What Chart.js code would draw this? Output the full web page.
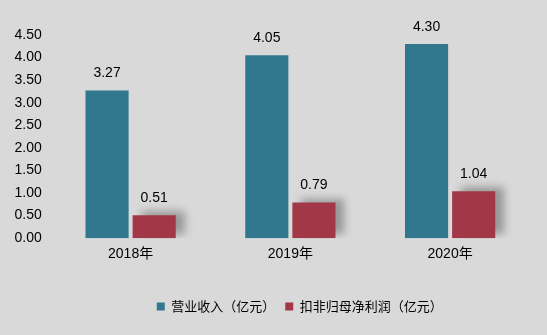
<!DOCTYPE html>
<html>
<head>
<meta charset="utf-8">
<script src="https://cdn.jsdelivr.net/npm/chart.js@4"></script>
<style>
  html, body { margin: 0; padding: 0; background: #d9d9d9; }
  #wrap { width: 547px; height: 335px; }
</style>
</head>
<body>
<div id="wrap"><canvas id="chart"></canvas></div>
<script>
const years = ["2018年", "2019年", "2020年"];
const revenue = [3.27, 4.05, 4.30];      // 营业收入
const netProfit = [0.51, 0.79, 1.04];    // 扣非归母净利润
const yTicks = [0, 0.5, 1, 1.5, 2, 2.5, 3, 3.5, 4, 4.5];

const FONT = "'Liberation Sans', 'Noto Sans CJK SC', sans-serif";
const CJK = "'Noto Sans CJK SC', 'Liberation Sans', sans-serif";

// value labels above each bar
const valueLabels = {
  id: "valueLabels",
  afterDatasetsDraw(chart) {
    const ctx = chart.ctx;
    ctx.save();
    ctx.font = "14px " + FONT;
    ctx.fillStyle = "#000";
    ctx.textAlign = "center";
    ctx.textBaseline = "middle";
    chart.data.datasets.forEach((ds, i) => {
      chart.getDatasetMeta(i).data.forEach((bar, j) => {
        ctx.fillText(ds.data[j].toFixed(2), bar.x, bar.y - 17);
      });
    });
    ctx.restore();
  }
};

// soft shadow behind the red bars
const barShadow = {
  id: "barShadow",
  beforeDatasetDraw(chart, args) {
    if (args.index !== 1) return;
    const ctx = chart.ctx;
    ctx.save();
    ctx.shadowColor = "rgba(0,0,0,0.3)";
    ctx.shadowBlur = 8;
    ctx.shadowOffsetX = 9;
    ctx.shadowOffsetY = -4;
  },
  afterDatasetDraw(chart, args) {
    if (args.index !== 1) return;
    chart.ctx.restore();
  }
};

// the legend sits a bit right of centre in the original
const legendShift = {
  id: "legendShift",
  afterInit(chart) {
    const lg = chart.legend;
    const draw = lg.draw;
    lg.draw = function () {
      this.ctx.save();
      this.ctx.translate(32, 0);
      draw.call(this);
      this.ctx.restore();
    };
  }
};

new Chart(document.getElementById("chart").getContext("2d"), {
  type: "bar",
  data: {
    labels: years,
    datasets: [
      { label: "营业收入（亿元）", data: revenue, backgroundColor: "#31778e" },
      { label: "扣非归母净利润（亿元）", data: netProfit, backgroundColor: "#a13747" }
    ]
  },
  options: {
    responsive: true,
    maintainAspectRatio: false,
    animation: false,
    categoryPercentage: 0.59,
    barPercentage: 0.915,
    layout: { padding: { top: 35, right: 17, left: 5.5, bottom: 12 } },
    plugins: {
      tooltip: { enabled: false },
      legend: {
        position: "bottom",
        labels: {
          boxWidth: 8,
          boxHeight: 8,
          padding: 10,
          color: "#000",
          font: { family: CJK, size: 13 }
        }
      }
    },
    scales: {
      x: {
        grid: { display: false, drawTicks: false },
        border: { display: false },
        ticks: { color: "#000", font: { family: FONT, size: 14 }, padding: 8 },
        afterFit(scale) { scale.height += 19; }
      },
      y: {
        min: 0,
        max: 4.5,
        afterBuildTicks(axis) { axis.ticks = yTicks.map(v => ({ value: v })); },
        grid: { display: false, drawTicks: false },
        border: { display: false },
        ticks: {
          color: "#000",
          font: { family: FONT, size: 14 },
          padding: 9,
          callback: v => Number(v).toFixed(2)
        }
      }
    }
  },
  plugins: [valueLabels, barShadow, legendShift]
});
</script>
</body>
</html>
